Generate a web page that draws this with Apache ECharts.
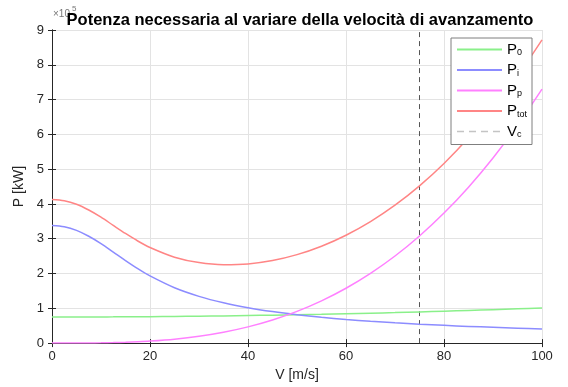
<!DOCTYPE html>
<html>
<head>
<meta charset="utf-8">
<script src="https://cdn.jsdelivr.net/npm/echarts@6/dist/echarts.min.js"></script>
<style>html,body{margin:0;padding:0;background:#fff}#c{width:568px;height:387px}</style>
</head>
<body>
<div id="c"></div>
<script>
// Velocity (m/s)
const V = [0, 2.5, 5, 7.5, 10, 12.5, 15, 17.5, 20, 25, 30, 35, 40, 45, 50, 55, 60, 65, 70, 75, 80, 85, 90, 95, 100];
// Power values (x10^5 W, axis label P [kW])
const P0 = [0.750, 0.750, 0.751, 0.752, 0.753, 0.754, 0.756, 0.758, 0.760, 0.766, 0.773, 0.782, 0.792, 0.803, 0.815, 0.829, 0.844, 0.860, 0.877, 0.896, 0.916, 0.938, 0.961, 0.985, 1.010];
const Pi = [3.380, 3.344, 3.240, 3.071, 2.860, 2.616, 2.370, 2.138, 1.930, 1.590, 1.344, 1.159, 1.017, 0.905, 0.815, 0.741, 0.680, 0.628, 0.583, 0.544, 0.510, 0.480, 0.454, 0.430, 0.408];
const Pp = [0.000, 0.000, 0.001, 0.003, 0.007, 0.014, 0.025, 0.039, 0.058, 0.114, 0.197, 0.313, 0.467, 0.665, 0.913, 1.215, 1.577, 2.005, 2.504, 3.080, 3.738, 4.483, 5.322, 6.259, 7.300];
const Ptot = [4.130, 4.094, 3.992, 3.826, 3.620, 3.384, 3.151, 2.935, 2.749, 2.470, 2.314, 2.254, 2.276, 2.373, 2.543, 2.785, 3.101, 3.493, 3.964, 4.520, 5.164, 5.901, 6.737, 7.674, 8.718];
const Vc = 75;
const xTicks = [0, 20, 40, 60, 80, 100];
const yTicks = [0, 1, 2, 3, 4, 5, 6, 7, 8, 9];

const pairs = arr => V.map((v, i) => [v, arr[i]]);
const FONT = 'Liberation Sans, Arial, sans-serif';
const chart = echarts.init(document.getElementById('c'), null, {renderer: 'canvas'});
const axisCommon = {
  axisLine: {show: true, lineStyle: {color: '#262626', width: 1}},
  axisTick: {show: true, inside: true, length: 4, lineStyle: {color: '#262626'}},
};
const legendRich = {
  m: {fontSize: 15, fontFamily: FONT, color: '#000', lineHeight: 16},
  s: {fontSize: 9, fontFamily: FONT, color: '#000', lineHeight: 5, verticalAlign: 'bottom'}
};
const legendMain = {P0: 'P', Pi: 'P', Pp: 'P', Ptot: 'P', Vc: 'V'};
const legendSub = {P0: '0', Pi: 'i', Pp: 'p', Ptot: 'tot', Vc: 'c'};
const lineSeries = (name, arr, color) => ({
  name, type: 'line', data: pairs(arr), smooth: 0.3, symbol: 'none',
  lineStyle: {color, width: 1.5}, itemStyle: {color}
});
chart.setOption({
  backgroundColor: '#fff',
  animation: false,
  title: {
    text: 'Potenza necessaria al variare della velocità di avanzamento',
    left: 295, top: 7, textAlign: 'center',
    textStyle: {fontFamily: FONT, fontSize: 16.5, fontWeight: 'bold', color: '#000'}
  },
  graphic: [{
    type: 'text', left: 53, top: 9, z: -1,
    style: {text: '×10', fontSize: 10, fontFamily: FONT, fill: '#777'}
  }, {
    type: 'text', left: 72, top: 5, z: -1,
    style: {text: '5', fontSize: 8, fontFamily: FONT, fill: '#777'}
  }],
  grid: {left: 52, right: 26, top: 30, bottom: 38, show: false},
  legend: {
    orient: 'vertical', left: 451, top: 38,
    itemWidth: 45, itemHeight: 12, itemGap: 5,
    backgroundColor: '#fff', borderColor: '#7f7f7f', borderWidth: 1, borderRadius: 0,
    padding: [4, 5, 5, 5],
    itemStyle: {opacity: 0},
    data: ['P0', 'Pi', 'Pp', 'Ptot',
      {name: 'Vc', lineStyle: {color: '#c4c4c4', type: [7, 5], width: 1.5}}],
    formatter: n => '{m|' + legendMain[n] + '}{s|' + legendSub[n] + '}',
    textStyle: {rich: legendRich, fontSize: 15, fontFamily: FONT}
  },
  xAxis: [{
    type: 'value', min: 0, max: 100, interval: 20,
    name: 'V [m/s]', nameLocation: 'middle', nameGap: 22,
    nameTextStyle: {fontFamily: FONT, fontSize: 14, color: '#262626'},
    axisLabel: {fontFamily: FONT, fontSize: 13, color: '#262626', margin: 7,
      formatter: v => xTicks.includes(v) ? String(v) : ''},
    splitLine: {show: true, lineStyle: {color: '#e3e3e3', width: 1}},
    ...axisCommon
  }, {
    type: 'value', min: 0, max: 100, interval: 20, position: 'top',
    axisLabel: {show: false}, splitLine: {show: false}, ...axisCommon
  }],
  yAxis: [{
    type: 'value', min: 0, max: 9, interval: 1,
    name: 'P [kW]', nameLocation: 'middle', nameGap: 25,
    nameTextStyle: {fontFamily: FONT, fontSize: 14, color: '#262626'},
    axisLabel: {fontFamily: FONT, fontSize: 13, color: '#262626', margin: 8,
      formatter: v => yTicks.includes(v) ? String(v) : ''},
    splitLine: {show: true, lineStyle: {color: '#e3e3e3', width: 1}},
    ...axisCommon
  }, {
    type: 'value', min: 0, max: 9, interval: 1, position: 'right',
    axisLabel: {show: false}, splitLine: {show: false}, ...axisCommon
  }],
  series: [
    lineSeries('P0', P0, '#8af08a'),
    lineSeries('Pi', Pi, '#8c8cff'),
    lineSeries('Pp', Pp, '#ff80ff'),
    lineSeries('Ptot', Ptot, '#ff8585'),
    {name: 'Vc', type: 'line', data: [[Vc, 0], [Vc, 9]], symbol: 'none',
     lineStyle: {color: '#555', type: [5, 4], width: 1}, itemStyle: {color: '#555'}, z: 1}
  ]
});
</script>
</body>
</html>
